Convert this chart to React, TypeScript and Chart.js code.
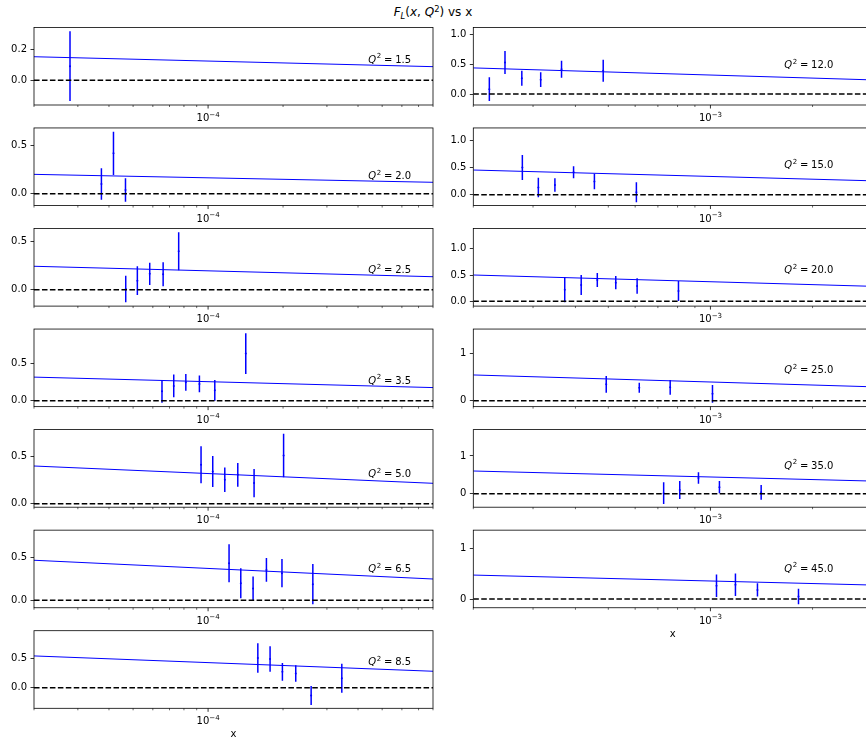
import React, { useEffect, useRef } from 'react';
import { Chart, registerables } from 'chart.js';

Chart.register(...registerables);

const FF = '"DejaVu Sans", "Liberation Sans", sans-serif';

// Q² of each panel: first seven in the left column, the rest in the right one
const Q2_VALUES = [1.5, 2.0, 2.5, 3.5, 5.0, 6.5, 8.5, 12.0, 15.0, 20.0, 25.0, 35.0, 45.0];

// x ranges and log ticks of the two columns
const LEFT_X_RANGE = [2e-5, 8e-4];
const RIGHT_X_RANGE = [2e-4, 3e-3];
const LEFT_MAJOR_TICKS = [1e-4];
const RIGHT_MAJOR_TICKS = [1e-3];
const LEFT_MINOR_TICKS = [2e-5, 3e-5, 4e-5, 5e-5, 6e-5, 7e-5, 8e-5, 9e-5, 2e-4, 3e-4, 4e-4, 5e-4, 6e-4, 7e-4, 8e-4];
const RIGHT_MINOR_TICKS = [2e-4, 3e-4, 4e-4, 5e-4, 6e-4, 7e-4, 8e-4, 9e-4, 2e-3, 3e-3];

// measured F_L points: x, value, symmetric error
const xQ1_5 = [2.79e-5];
const fQ1_5 = [0.091];
const eQ1_5 = [0.225];

const xQ2_0 = [3.73e-5, 4.17e-5, 4.66e-5];
const fQ2_0 = [0.1, 0.417, 0.038];
const eQ2_0 = [0.163, 0.224, 0.121];

const xQ2_5 = [4.67e-5, 5.2e-5, 5.83e-5, 6.6e-5, 7.62e-5];
const fQ2_5 = [0.007, 0.094, 0.165, 0.16, 0.4];
const eQ2_5 = [0.139, 0.15, 0.116, 0.125, 0.198];

const xQ3_5 = [6.53e-5, 7.28e-5, 8.14e-5, 9.23e-5, 1.064e-4, 1.417e-4];
const fQ3_5 = [0.125, 0.197, 0.245, 0.224, 0.139, 0.63];
const eQ3_5 = [0.152, 0.152, 0.112, 0.112, 0.139, 0.273];

const xQ5_0 = [9.37e-5, 1.044e-4, 1.167e-4, 1.316e-4, 1.53e-4, 2.01e-4];
const fQ5_0 = [0.414, 0.343, 0.254, 0.307, 0.219, 0.513];
const eQ5_0 = [0.197, 0.165, 0.13, 0.126, 0.151, 0.232];

const xQ6_5 = [1.214e-4, 1.353e-4, 1.516e-4, 1.715e-4, 1.98e-4, 2.634e-4];
const fQ6_5 = [0.434, 0.199, 0.139, 0.357, 0.318, 0.189];
const eQ6_5 = [0.223, 0.176, 0.139, 0.139, 0.166, 0.236];

const xQ8_5 = [1.584e-4, 1.774e-4, 1.988e-4, 2.249e-4, 2.593e-4, 3.443e-4];
const fQ8_5 = [0.5, 0.484, 0.267, 0.24, -0.131, 0.16];
const eQ8_5 = [0.248, 0.214, 0.15, 0.139, 0.16, 0.245];

const xQ12 = [2.23e-4, 2.48e-4, 2.78e-4, 3.16e-4, 3.64e-4, 4.83e-4];
const fQ12 = [0.081, 0.531, 0.266, 0.242, 0.418, 0.392];
const eQ12 = [0.2, 0.194, 0.127, 0.124, 0.143, 0.185];

const xQ15 = [2.79e-4, 3.11e-4, 3.48e-4, 3.95e-4, 4.55e-4, 6.05e-4];
const fQ15 = [0.503, 0.133, 0.18, 0.414, 0.245, 0.045];
const eQ15 = [0.232, 0.182, 0.124, 0.111, 0.145, 0.185];

const xQ20 = [3.72e-4, 4.16e-4, 4.64e-4, 5.26e-4, 6.08e-4, 8.05e-4];
const fQ20 = [0.218, 0.31, 0.404, 0.354, 0.29, 0.195];
const eQ20 = [0.237, 0.19, 0.133, 0.126, 0.146, 0.19];

const xQ25 = [4.93e-4, 6.17e-4, 7.61e-4, 1.014e-3];
const fQ25 = [0.345, 0.275, 0.282, 0.145];
const eQ25 = [0.177, 0.106, 0.155, 0.187];

const xQ35 = [7.28e-4, 8.12e-4, 9.22e-4, 1.063e-3, 1.411e-3];
const fQ35 = [0.015, 0.098, 0.417, 0.174, 0.036];
const eQ35 = [0.288, 0.239, 0.152, 0.164, 0.195];

const xQ45 = [1.042e-3, 1.185e-3, 1.376e-3, 1.818e-3];
const fQ45 = [0.26, 0.28, 0.18, 0.05];
const eQ45 = [0.22, 0.22, 0.13, 0.15];

const POINT_X = [xQ1_5, xQ2_0, xQ2_5, xQ3_5, xQ5_0, xQ6_5, xQ8_5, xQ12, xQ15, xQ20, xQ25, xQ35, xQ45];
const POINT_F = [fQ1_5, fQ2_0, fQ2_5, fQ3_5, fQ5_0, fQ6_5, fQ8_5, fQ12, fQ15, fQ20, fQ25, fQ35, fQ45];
const POINT_ERR = [eQ1_5, eQ2_0, eQ2_5, eQ3_5, eQ5_0, eQ6_5, eQ8_5, eQ12, eQ15, eQ20, eQ25, eQ35, eQ45];

// model curve, straight in log x: value at the left and right end of the x range
const CURVE_AT_XMIN = [0.152, 0.2, 0.244, 0.315, 0.401, 0.47, 0.535, 0.44, 0.457, 0.5, 0.543, 0.602, 0.47];
const CURVE_AT_XMAX = [0.088, 0.118, 0.135, 0.175, 0.217, 0.25, 0.277, 0.238, 0.257, 0.285, 0.293, 0.335, 0.275];

// y axis limits and ticks
const Y_MIN = [-0.159, -0.122, -0.171, -0.08, -0.037, -0.087, -0.347, -0.185, -0.201, -0.091, -0.126, -0.358, -0.17];
const Y_MAX = [0.341, 0.679, 0.6375, 0.958, 0.788, 0.823, 0.96, 1.123, 1.236, 1.384, 1.512, 1.7, 1.35];
const Y_TICKS = [
  [0, 0.2], [0, 0.5], [0, 0.5], [0, 0.5], [0, 0.5], [0, 0.5], [0, 0.5],
  [0, 0.5, 1], [0, 0.5, 1], [0, 0.5, 1], [0, 1], [0, 1], [0, 1],
];
const Y_TICK_TEXT = [
  ['0.0', '0.2'], ['0.0', '0.5'], ['0.0', '0.5'], ['0.0', '0.5'], ['0.0', '0.5'], ['0.0', '0.5'], ['0.0', '0.5'],
  ['0.0', '0.5', '1.0'], ['0.0', '0.5', '1.0'], ['0.0', '0.5', '1.0'], ['0', '1'], ['0', '1'], ['0', '1'],
];

// height (data units) of each Q² annotation
const LABEL_Y = [0.137, 0.186, 0.212, 0.277, 0.323, 0.375, 0.438, 0.5, 0.56, 0.607, 0.663, 0.761, 0.61];

// figure geometry
const AX_LEFT = [34, 473.3];
const AX_WIDTH = 399;
const AX_TOP0 = 27.4;
const ROW_STEP = 100.55;
const AX_HEIGHT = 77.6;
const CANVAS_LEFT = [0, 440];
const CANVAS_W = 441;
const CANVAS_H = 121;

function drawDecorations(chart: any, idx: number, col: number, bottomRow: boolean) {
  const { ctx, chartArea: a } = chart;
  const xs = chart.scales.x;
  const ys = chart.scales.y;
  const [, xMax] = col === 0 ? LEFT_X_RANGE : RIGHT_X_RANGE;
  const majors = col === 0 ? LEFT_MAJOR_TICKS : RIGHT_MAJOR_TICKS;
  const minors = col === 0 ? LEFT_MINOR_TICKS : RIGHT_MINOR_TICKS;
  ctx.save();
  ctx.strokeStyle = '#000';
  ctx.fillStyle = '#000';

  // frame
  ctx.lineWidth = 0.8;
  ctx.strokeRect(a.left, a.top, a.right - a.left, a.bottom - a.top);

  // x ticks
  ctx.lineWidth = 0.6;
  for (const v of minors) {
    const p = xs.getPixelForValue(v);
    ctx.beginPath();
    ctx.moveTo(p, a.bottom);
    ctx.lineTo(p, a.bottom + 2);
    ctx.stroke();
  }
  ctx.lineWidth = 0.8;
  ctx.textAlign = 'left';
  ctx.textBaseline = 'alphabetic';
  for (const v of majors) {
    const p = xs.getPixelForValue(v);
    ctx.beginPath();
    ctx.moveTo(p, a.bottom);
    ctx.lineTo(p, a.bottom + 3.5);
    ctx.stroke();
    const exp = '\u2212' + String(Math.round(-Math.log10(v)));
    ctx.font = `10px ${FF}`;
    const w1 = ctx.measureText('10').width;
    ctx.font = `7px ${FF}`;
    const w2 = ctx.measureText(exp).width;
    const x0 = p - (w1 + w2) / 2;
    ctx.font = `10px ${FF}`;
    ctx.fillText('10', x0, a.bottom + 16);
    ctx.font = `7px ${FF}`;
    ctx.fillText(exp, x0 + w1, a.bottom + 11.5);
  }

  // Q² annotation
  const lx = xs.getPixelForValue(xMax * 0.55);
  const ly = ys.getPixelForValue(LABEL_Y[idx]) + 3.6;
  ctx.font = `italic 10px ${FF}`;
  ctx.fillText('Q', lx, ly);
  let cx = lx + ctx.measureText('Q').width + 0.6;
  ctx.font = `7px ${FF}`;
  ctx.fillText('2', cx, ly - 4.2);
  cx += ctx.measureText('2').width + 2.8;
  ctx.font = `10px ${FF}`;
  ctx.fillText('=', cx, ly);
  cx += ctx.measureText('=').width + 2.8;
  ctx.fillText(Q2_VALUES[idx].toFixed(1), cx, ly);

  if (bottomRow) {
    ctx.textAlign = 'center';
    ctx.fillText('x', (a.left + a.right) / 2, a.bottom + 29);
  }
  ctx.restore();
}

function Panel({ idx }: { idx: number }) {
  const ref = useRef<HTMLCanvasElement>(null);
  const col = idx < 7 ? 0 : 1;
  const row = col === 0 ? idx : idx - 7;
  const axTop = AX_TOP0 + ROW_STEP * row;
  const canvasTop = Math.floor(axTop) - 10;
  const bottomRow = (col === 0 && row === 6) || (col === 1 && row === 5);

  useEffect(() => {
    const [xMin, xMax] = col === 0 ? LEFT_X_RANGE : RIGHT_X_RANGE;
    const xs = POINT_X[idx];
    const fs = POINT_F[idx];
    const es = POINT_ERR[idx];

    const bars: { x: number; y: number | null }[] = [];
    xs.forEach((xv, i) => {
      bars.push({ x: xv, y: fs[i] - es[i] }, { x: xv, y: fs[i] + es[i] }, { x: xv, y: null });
    });

    const padTop = axTop - canvasTop;
    const yAxisW = AX_LEFT[col] - CANVAS_LEFT[col];

    const chart = new Chart(ref.current!, {
      type: 'line',
      data: {
        datasets: [
          {
            type: 'line',
            data: [{ x: xMin, y: 0 }, { x: xMax, y: 0 }],
            borderColor: '#000000',
            borderWidth: 1.5,
            borderDash: [5.55, 2.4],
            pointRadius: 0,
            order: 0,
          },
          {
            type: 'line',
            data: [{ x: xMin, y: CURVE_AT_XMIN[idx] }, { x: xMax, y: CURVE_AT_XMAX[idx] }],
            borderColor: '#0000ff',
            borderWidth: 1,
            pointRadius: 0,
            order: 1,
          },
          {
            type: 'line',
            data: bars as any,
            borderColor: '#0000ff',
            borderWidth: 1.5,
            pointRadius: 0,
            spanGaps: false,
            order: 2,
          },
          {
            type: 'scatter',
            data: xs.map((xv, i) => ({ x: xv, y: fs[i] })),
            pointRadius: 1,
            backgroundColor: '#0000ff',
            borderWidth: 0,
            order: 2,
          },
        ] as any,
      },
      options: {
        animation: false,
        responsive: false,
        devicePixelRatio: 1,
        events: [],
        layout: {
          padding: {
            left: 0,
            top: padTop,
            right: CANVAS_W - yAxisW - AX_WIDTH,
            bottom: CANVAS_H - padTop - AX_HEIGHT,
          },
        },
        plugins: {
          legend: { display: false },
          tooltip: { enabled: false },
          title: { display: false },
        },
        scales: {
          x: { type: 'logarithmic', min: xMin, max: xMax, display: false },
          y: {
            type: 'linear',
            position: 'left',
            min: Y_MIN[idx],
            max: Y_MAX[idx],
            afterFit: (s: any) => {
              s.width = yAxisW;
            },
            afterBuildTicks: (s: any) => {
              s.ticks = Y_TICKS[idx].map((v) => ({ value: v }));
            },
            ticks: {
              callback: (_v: any, i: number) => Y_TICK_TEXT[idx][i],
              font: { family: FF, size: 10 },
              color: '#000000',
              padding: 3.5,
              autoSkip: false,
              maxRotation: 0,
            },
            grid: {
              drawOnChartArea: false,
              drawTicks: true,
              tickLength: 3.5,
              color: '#000000',
              lineWidth: 0.8,
            },
            border: { display: false },
          },
        },
      } as any,
      plugins: [
        {
          id: 'panelDecorations',
          afterDraw: (c: any) => drawDecorations(c, idx, col, bottomRow),
        },
      ],
    });
    return () => chart.destroy();
  }, []);

  return (
    <canvas
      ref={ref}
      width={CANVAS_W}
      height={CANVAS_H}
      style={{ position: 'absolute', left: CANVAS_LEFT[col], top: canvasTop, width: CANVAS_W, height: CANVAS_H }}
    />
  );
}

export default function App() {
  const it = { fontStyle: 'italic' as const };
  return (
    <div
      style={{
        position: 'absolute',
        left: 0,
        top: 0,
        width: 866,
        height: 740,
        overflow: 'hidden',
        background: '#ffffff',
      }}
    >
      <div
        style={{
          position: 'absolute',
          left: 0,
          top: 5,
          width: 866,
          textAlign: 'center',
          fontFamily: FF,
          fontSize: 12,
          lineHeight: '14px',
          color: '#000',
          whiteSpace: 'pre',
        }}
      >
        <span style={it}>F</span>
        <span style={{ ...it, fontSize: 8.4, position: 'relative', top: 2.5 }}>L</span>
        <span>(</span>
        <span style={it}>x</span>
        <span>, </span>
        <span style={it}>Q</span>
        <span style={{ fontSize: 8.4, position: 'relative', top: -4.5 }}>2</span>
        <span>) vs x</span>
      </div>
      {Q2_VALUES.map((_, i) => (
        <Panel key={i} idx={i} />
      ))}
    </div>
  );
}
